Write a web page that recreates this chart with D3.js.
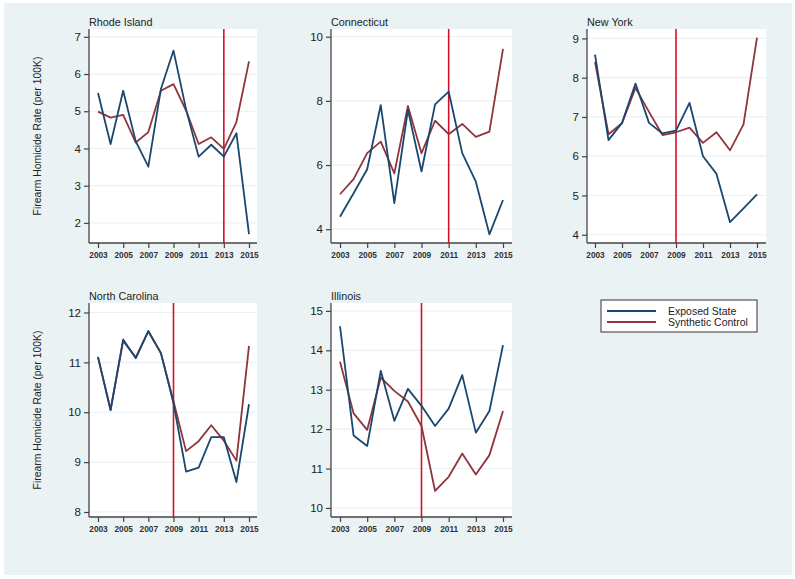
<!DOCTYPE html>
<html><head><meta charset="utf-8">
<script src="https://cdn.jsdelivr.net/npm/d3@7"></script>
<style>
body{margin:0;background:#fff;}
svg{display:block;font-family:"Liberation Sans",Arial,sans-serif;}
</style></head>
<body><svg id="c" width="795" height="579"></svg>
<script>
const years = [2003,2004,2005,2006,2007,2008,2009,2010,2011,2012,2013,2014,2015];
const xTicks = [2003,2005,2007,2009,2011,2013,2015];
const states = ["Rhode Island","Connecticut","New York","North Carolina","Illinois"];
const interventionYears = [2013,2011,2009,2009,2009];
const riExposed   = [5.49,4.12,5.55,4.19,3.51,5.6,6.63,5.05,3.78,4.1,3.78,4.41,1.7];
const riSynthetic = [4.99,4.83,4.9,4.16,4.44,5.55,5.73,5.02,4.12,4.3,3.99,4.71,6.34];
const ctExposed   = [4.39,5.12,5.87,7.87,4.81,7.72,5.8,7.89,8.29,6.37,5.48,3.84,4.91];
const ctSynthetic = [5.09,5.56,6.37,6.73,5.74,7.84,6.37,7.38,6.96,7.28,6.88,7.04,9.62];
const nyExposed   = [8.59,6.41,6.85,7.85,6.85,6.58,6.65,7.36,6.0,5.55,4.32,4.67,5.03];
const nySynthetic = [8.4,6.56,6.84,7.74,7.13,6.54,6.61,6.73,6.34,6.61,6.15,6.81,9.02];
const ncExposed   = [11.11,10.04,11.46,11.08,11.63,11.19,10.18,8.81,8.89,9.5,9.5,8.6,10.16];
const ncSynthetic = [11.1,10.05,11.43,11.1,11.62,11.18,10.22,9.22,9.42,9.74,9.43,9.03,11.33];
const ilExposed   = [14.61,11.84,11.57,13.48,12.21,13.02,12.59,12.08,12.52,13.37,11.91,12.46,14.13];
const ilSynthetic = [13.71,12.4,11.98,13.31,12.97,12.7,12.08,10.43,10.79,11.38,10.85,11.34,12.46];
const exposedSeries = [riExposed,ctExposed,nyExposed,ncExposed,ilExposed];
const syntheticSeries = [riSynthetic,ctSynthetic,nySynthetic,ncSynthetic,ilSynthetic];
const yTickSets = [[2,3,4,5,6,7],[4,6,8,10],[4,5,6,7,8,9],[8,9,10,11,12],[10,11,12,13,14,15]];
const yDomains = [[1.46,7.21],[3.57,10.24],[3.79,9.24],[7.9,12.19],[9.77,15.2]];
const legendLabels = ["Exposed State","Synthetic Control"];

// layout (pixels)
const layout = [
  {l:89,t:29,r:257,b:243,x0:98,x1:249},
  {l:331,t:29,r:512,b:243,x0:340,x1:503},
  {l:587,t:29,r:766,b:243,x0:595,x1:757},
  {l:89,t:303,r:257,b:517,x0:98,x1:249},
  {l:331,t:303,r:512,b:517,x0:340,x1:503}
];
const blue="#1a476f", maroon="#90353b", vred="#d0112b";
const svg = d3.select("#c");
svg.append("rect").attr("x",4).attr("y",3).attr("width",788).attr("height",572).attr("fill","#eaf2f3");

states.forEach((name,i)=>{
  const L = layout[i];
  const x = d3.scaleLinear().domain([2003,2015]).range([L.x0,L.x1]);
  const y = d3.scaleLinear().domain(yDomains[i]).range([L.b,L.t]);
  const g = svg.append("g");
  g.append("rect").attr("x",L.l).attr("y",L.t).attr("width",L.r-L.l).attr("height",L.b-L.t).attr("fill","#fff");
  // grid
  g.selectAll(".grid").data(yTickSets[i]).join("line")
    .attr("x1",L.l).attr("x2",L.r).attr("y1",d=>y(d)).attr("y2",d=>y(d))
    .attr("stroke","#eaf2f3").attr("stroke-width",1.2);
  // axes
  const ya = g.append("g").attr("transform",`translate(${L.l},0)`)
    .call(d3.axisLeft(y).tickValues(yTickSets[i]).tickSize(5).tickPadding(3).tickFormat(d3.format("d")));
  ya.select(".domain").attr("d",`M0,${L.t}V${L.b}`).attr("stroke","#444").attr("stroke-width",1.3);
  ya.selectAll(".tick line").attr("stroke","#444").attr("stroke-width",1.2);
  ya.selectAll(".tick text").attr("font-size",11.5).attr("fill","#222").attr("font-family","Liberation Sans, Arial, sans-serif");
  const xa = g.append("g").attr("transform",`translate(0,${L.b})`)
    .call(d3.axisBottom(x).tickValues(xTicks).tickSize(5).tickPadding(4).tickFormat(d3.format("d")));
  xa.select(".domain").attr("d",`M${L.l},0H${L.r}`).attr("stroke","#444").attr("stroke-width",1.3);
  xa.selectAll(".tick line").attr("stroke","#444").attr("stroke-width",1.2);
  xa.selectAll(".tick text").attr("font-size",8.3).attr("font-weight","bold").attr("fill","#333").attr("font-family","Liberation Sans, Arial, sans-serif");
  // title
  g.append("text").attr("x",L.l).attr("y",L.t-3).attr("font-size",10.8).attr("fill","#222").text(name);
  // vertical line
  g.append("line").attr("x1",x(interventionYears[i])).attr("x2",x(interventionYears[i]))
    .attr("y1",L.t).attr("y2",L.b).attr("stroke",vred).attr("stroke-width",1.6);
  const line = d3.line().x((d,j)=>x(years[j])).y(d=>y(d));
  g.append("path").datum(syntheticSeries[i]).attr("d",line).attr("fill","none").attr("stroke",maroon).attr("stroke-width",1.8).attr("stroke-linejoin","round");
  g.append("path").datum(exposedSeries[i]).attr("d",line).attr("fill","none").attr("stroke",blue).attr("stroke-width",1.8).attr("stroke-linejoin","round");
  if(i===0||i===3){
    const cy=(L.t+L.b)/2;
    g.append("text").attr("transform",`translate(41,${cy}) rotate(-90)`).attr("text-anchor","middle")
      .attr("font-size",10.4).attr("fill","#222").text("Firearm Homicide Rate (per 100K)");
  }
});

// legend
const lg = svg.append("g");
lg.append("rect").attr("x",601).attr("y",300).attr("width",156).attr("height",32).attr("fill","#fff").attr("stroke","#333").attr("stroke-width",1);
[blue,maroon].forEach((c,k)=>{
  lg.append("line").attr("x1",607).attr("x2",656).attr("y1",311+k*11).attr("y2",311+k*11).attr("stroke",c).attr("stroke-width",1.8);
  lg.append("text").attr("x",668).attr("y",315+k*11).attr("font-size",10.5).attr("fill","#222").text(legendLabels[k]);
});
</script></body></html>
